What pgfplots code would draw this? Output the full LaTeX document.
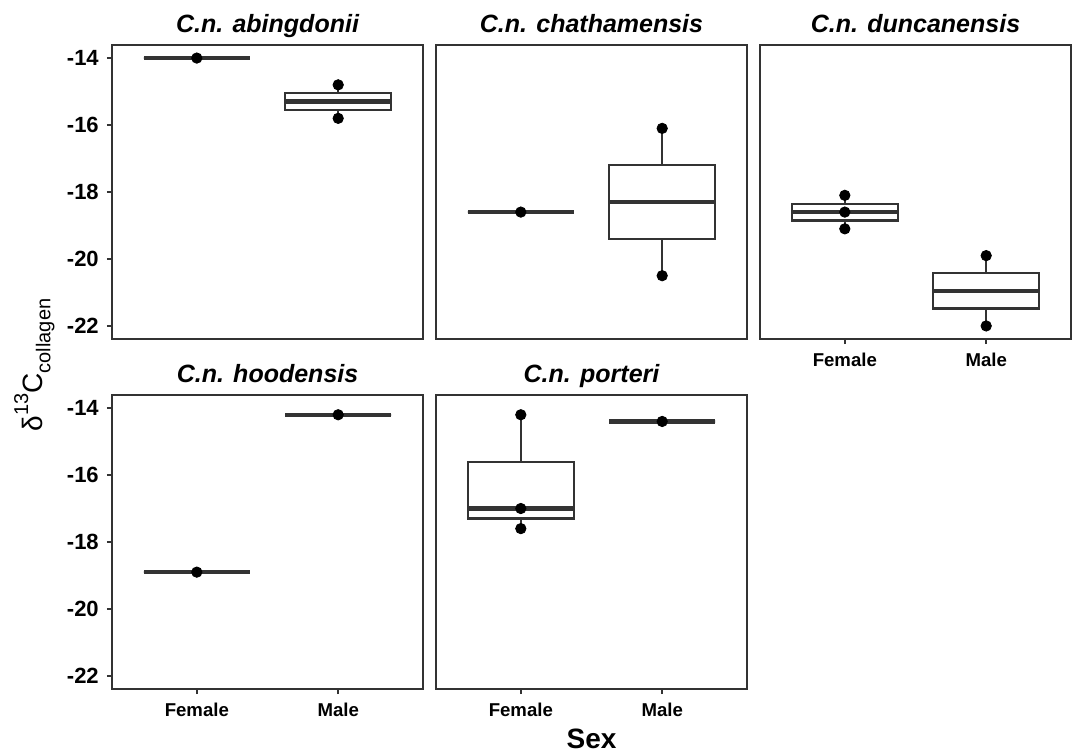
\documentclass[border=0pt]{standalone}
\usepackage{fontspec}
\setmainfont{Liberation Sans}
\usepackage{pgfplots}
\pgfplotsset{compat=1.18}
\usepgfplotslibrary{statistics}

\definecolor{grey20}{RGB}{51,51,51}

\pgfplotsset{
  facet/.style={
    width=155.5pt, height=147pt, scale only axis,
    anchor=south west,
    xmin=0.4, xmax=2.6, ymin=-22.39, ymax=-13.61,
    axis line style={draw=grey20, line width=0.9pt},
    tick align=outside, tick pos=left,
    major tick length=2.6pt,
    tick style={draw=grey20, line width=0.8pt},
    xtick={1,2}, xticklabels={Female,Male},
    ytick={-22,-20,-18,-16,-14},
    yticklabels={-22,-20,-18,-16,-14},
    xticklabel style={font=\bfseries\fontsize{9.3}{11}\selectfont, black, yshift=-1pt},
    yticklabel style={font=\bfseries\fontsize{11}{13}\selectfont, black, xshift=-0.5pt},
    every axis title/.style={font=\bfseries\itshape\fontsize{12.5}{14}\selectfont,
      at={(0.5,1)}, anchor=base, yshift=6.25pt},
    boxplot/draw direction=y,
    boxplot/box extend=0.75,
    boxplot/whisker extend=0,
    clip=false,
  },
  noy/.style={ymajorticks=false},
  nox/.style={xmajorticks=false},
  bx/.style={draw=grey20, line width=1.1pt, solid,
    boxplot/every median/.style={line width=2.2pt}},
  pts/.style={only marks, mark=*, mark size=2.6pt, draw=black, fill=black},
}

% box statistics: lower whisker, lower quartile, median, upper quartile, upper whisker
\newcommand{\bp}[6]{%
  \addplot[bx, boxplot prepared={draw position=#1,
    lower whisker=#2, lower quartile=#3, median=#4,
    upper quartile=#5, upper whisker=#6}] coordinates {};}

\begin{document}
\begin{tikzpicture}
\useasboundingbox (0,0) rectangle (540.5pt,377.5pt);

% C.n. abingdonii
\begin{axis}[facet, nox, at={(56pt,208pt)}, title={C.n. abingdonii}]
  \bp{1}{-14.0}{-14.0}{-14.0}{-14.0}{-14.0}
  \bp{2}{-15.8}{-15.55}{-15.3}{-15.05}{-14.8}
  \addplot[pts] coordinates {(1,-14.0) (2,-14.8) (2,-15.8)};
\end{axis}

% C.n. chathamensis
\begin{axis}[facet, nox, noy, at={(218pt,208pt)}, title={C.n. chathamensis}]
  \bp{1}{-18.6}{-18.6}{-18.6}{-18.6}{-18.6}
  \bp{2}{-20.5}{-19.4}{-18.3}{-17.2}{-16.1}
  \addplot[pts] coordinates {(1,-18.6) (2,-16.1) (2,-20.5)};
\end{axis}

% C.n. duncanensis
\begin{axis}[facet, noy, at={(380pt,208pt)}, title={C.n. duncanensis}]
  \bp{1}{-19.1}{-18.85}{-18.6}{-18.35}{-18.1}
  \bp{2}{-22.0}{-21.48}{-20.95}{-20.43}{-19.9}
  \addplot[pts] coordinates {(1,-18.1) (1,-18.6) (1,-19.1) (2,-19.9) (2,-22.0)};
\end{axis}

% C.n. hoodensis
\begin{axis}[facet, at={(56pt,33pt)}, title={C.n. hoodensis}]
  \bp{1}{-18.9}{-18.9}{-18.9}{-18.9}{-18.9}
  \bp{2}{-14.2}{-14.2}{-14.2}{-14.2}{-14.2}
  \addplot[pts] coordinates {(1,-18.9) (2,-14.2)};
\end{axis}

% C.n. porteri
\begin{axis}[facet, noy, at={(218pt,33pt)}, title={C.n. porteri}]
  \bp{1}{-17.6}{-17.3}{-17.0}{-15.6}{-14.2}
  \bp{2}{-14.4}{-14.4}{-14.4}{-14.4}{-14.4}
  \addplot[pts] coordinates {(1,-14.2) (1,-17.0) (1,-17.6) (2,-14.4)};
\end{axis}

% shared axis titles
\node[rotate=90, anchor=base, font=\fontsize{14}{16}\selectfont] at (21pt,195pt)
  {δ\raisebox{0.5em}{\fontsize{10}{11}\selectfont 13}C\raisebox{-0.3em}{\fontsize{10}{11}\selectfont collagen}};
\node[anchor=base, font=\bfseries\fontsize{14}{16}\selectfont] at (295.75pt,3.5pt) {Sex};
\end{tikzpicture}
\end{document}
